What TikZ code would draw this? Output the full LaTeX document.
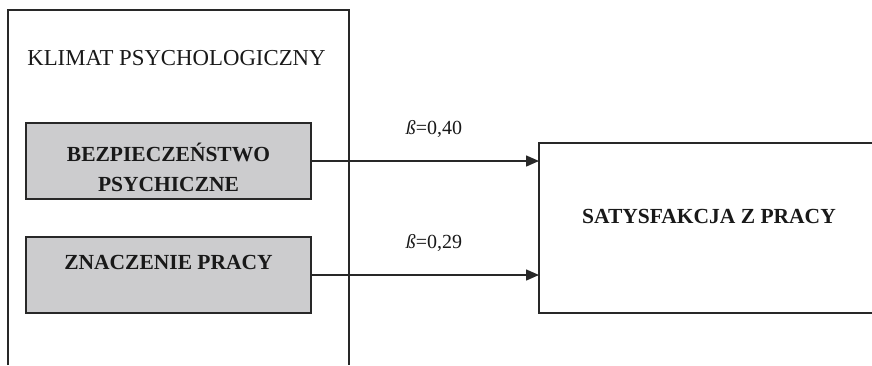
\documentclass[tikz,border=0pt]{standalone}
\usepackage{fontspec}
\setmainfont{Liberation Serif}
\usetikzlibrary{arrows.meta}
\definecolor{boxgray}{RGB}{204,204,206}
\definecolor{linegray}{RGB}{40,40,40}
\tikzset{
  frame/.style={draw=linegray, line width=1.5pt},
  graybox/.style={draw=linegray, line width=1.5pt, fill=boxgray, minimum width=285pt, inner sep=0pt},
  boldlbl/.style={font=\fontsize{21.5}{30}\selectfont\bfseries, align=center, text=black!90},
  plainlbl/.style={font=\fontsize{22.8}{26}\selectfont, text=black!90},
  betalbl/.style={font=\fontsize{20}{24}\selectfont, text=black!90},
  conn/.style={draw=linegray, line width=1.5pt, -{Triangle[length=13pt,width=11pt]}}
}
\begin{document}
\begin{tikzpicture}[x=1pt,y=-1pt]
\useasboundingbox (0,0) rectangle (872,365);
% outer frame (open at bottom)
\draw[frame] (8,365) -- (8,10) -- (349,10) -- (349,365);
\node[plainlbl] (klimat) at (176.5,58) {KLIMAT PSYCHOLOGICZNY};
% gray boxes
\node[graybox, minimum height=76pt] (b1) at (168.5,161) {};
\node[boldlbl] (b1t) at (168.5,167) {BEZPIECZEŃSTWO\\PSYCHICZNE};
\node[graybox, minimum height=76pt] (b2) at (168.5,275) {};
\node[boldlbl] (b2t) at (168.5,262) {ZNACZENIE PRACY};
% right box (open at right)
\draw[frame] (872,143) -- (539,143) -- (539,313) -- (872,313);
\coordinate (t1) at (539,161);
\coordinate (t2) at (539,275);
\node[boldlbl] (sat) at (709,216) {SATYSFAKCJA Z PRACY};
% connectors
\draw[conn] (b1.east) -- (t1);
\draw[conn] (b2.east) -- (t2);
\node[betalbl] (beta1) at (434,129) {\textit{ß}=0,40};
\node[betalbl] (beta2) at (434,243) {\textit{ß}=0,29};
\end{tikzpicture}
\end{document}
